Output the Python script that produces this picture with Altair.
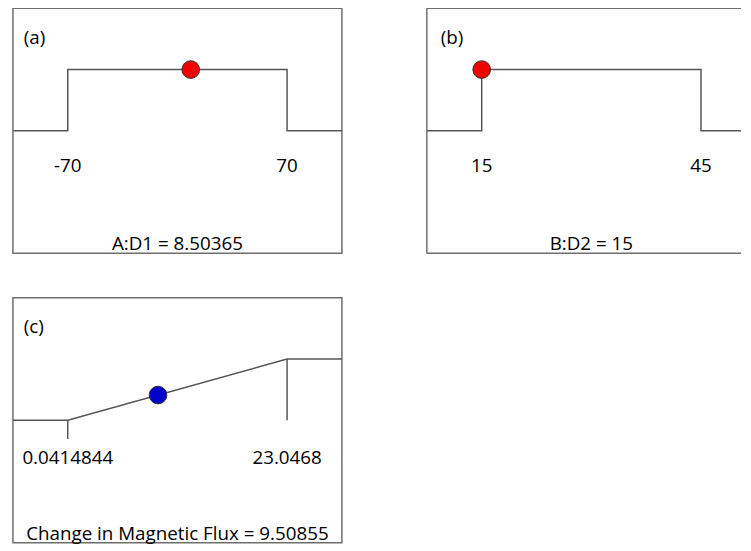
import altair as alt
import pandas as pd

# ---- data ----
panel_letters = ["(a)", "(b)", "(c)"]
factor_names = ["A:D1", "B:D2", "Change in Magnetic Flux"]
lows = [-70, 15, 0.0414844]
highs = [70, 45, 23.0468]
values = [8.50365, 15, 9.50855]
low_labels = ["-70", "15", "0.0414844"]
high_labels = ["70", "45", "23.0468"]
value_labels = ["8.50365", "15", "9.50855"]

# ---- styles ----
W, H = 333, 248
LINE = "#555555"
BORDER = "#6e6e6e"
FONT = "Open Sans"
FS = 19
TXT = "#000000"
DOT_COLORS = ["#f00000", "#f00000", "#0000c8"]


def texts(i, letter_x, width):
    letter = alt.Chart(pd.DataFrame({"t": [panel_letters[i]]})).mark_text(
        font=FONT, fontSize=FS, color=TXT, align="left", baseline="middle"
    ).encode(x=alt.value(letter_x), y=alt.value(30), text="t:N")
    title = alt.Chart(
        pd.DataFrame({"t": [f"{factor_names[i]} = {value_labels[i]}"]})
    ).mark_text(
        font=FONT, fontSize=FS, color=TXT, align="center", baseline="middle"
    ).encode(x=alt.value(W / 2), y=alt.value(H - 9), text="t:N")
    return [letter, title]


def step_panel(i, width=W, letter_x=11, clipped=False):
    lo, hi, v = lows[i], highs[i], values[i]
    span = hi - lo
    d0, d1 = lo - span / 4, hi + span / 4
    xdom = [d0, d0 + (d1 - d0) * width / W]
    path = pd.DataFrame({"x": [d0, lo, lo, hi, hi, d1],
                         "y": [0, 0, 1, 1, 0, 0],
                         "o": list(range(6))})
    x = alt.X("x:Q", scale=alt.Scale(domain=xdom, nice=False, zero=False), axis=None)
    y = alt.Y("y:Q", scale=alt.Scale(domain=[-2, 2], nice=False, zero=False), axis=None)
    line = alt.Chart(path).mark_line(color=LINE, strokeWidth=1.5, clip=True).encode(
        x=x, y=y, order="o:Q")
    dot = alt.Chart(pd.DataFrame({"x": [v], "y": [1]})).mark_circle(
        size=320, fill=DOT_COLORS[i], stroke="#333333", strokeWidth=1, opacity=1
    ).encode(x=x, y=y)
    lab = alt.Chart(pd.DataFrame({"x": [lo, hi], "t": [low_labels[i], high_labels[i]]})).mark_text(
        font=FONT, fontSize=FS, color=TXT, align="center", baseline="middle"
    ).encode(x=x, y=alt.value(160), text="t:N")
    layers = [line, lab, dot] + texts(i, letter_x, width)
    if clipped:
        one = alt.Data(values=[{"k": 0}])
        b1 = alt.Chart(one).mark_rule(color=BORDER, strokeWidth=1.5).encode(
            x=alt.value(0), x2=alt.value(width), y=alt.value(0))
        b2 = alt.Chart(one).mark_rule(color=BORDER, strokeWidth=1.5).encode(
            x=alt.value(0), x2=alt.value(width), y=alt.value(H))
        b3 = alt.Chart(one).mark_rule(color=BORDER, strokeWidth=1.5).encode(
            x=alt.value(0), y=alt.value(0), y2=alt.value(H))
        layers += [b1, b2, b3]
        return alt.layer(*layers).properties(
            width=width, height=H, view=alt.ViewBackground(stroke="transparent"))
    return alt.layer(*layers).properties(width=width, height=H)


def ramp_panel(i, letter_x=11):
    lo, hi, v = lows[i], highs[i], values[i]
    span = hi - lo
    d0, d1 = lo - span / 4, hi + span / 4
    path = pd.DataFrame({"x": [d0, lo, hi, d1],
                         "y": [lo, lo, hi, hi],
                         "o": list(range(4))})
    x = alt.X("x:Q", scale=alt.Scale(domain=[d0, d1], nice=False, zero=False), axis=None)
    y = alt.Y("y:Q", scale=alt.Scale(domain=[lo - 2 * span, hi + span], nice=False, zero=False),
              axis=None)
    line = alt.Chart(path).mark_line(color=LINE, strokeWidth=1.5, clip=True).encode(
        x=x, y=y, order="o:Q")
    tick_r = alt.Chart(pd.DataFrame({"x": [hi], "y": [hi], "y2": [lo]})).mark_rule(
        color=LINE, strokeWidth=1.5).encode(x=x, y=y, y2="y2:Q")
    tick_l = alt.Chart(pd.DataFrame({"x": [lo], "y": [lo]})).mark_rule(
        color=LINE, strokeWidth=1.5).encode(x=x, y=y, y2=alt.value(143))
    dot = alt.Chart(pd.DataFrame({"x": [v], "y": [v]})).mark_circle(
        size=320, fill=DOT_COLORS[i], stroke="#333333", strokeWidth=1, opacity=1
    ).encode(x=x, y=y)
    lab = alt.Chart(pd.DataFrame({"x": [lo, hi], "t": [low_labels[i], high_labels[i]]})).mark_text(
        font=FONT, fontSize=FS, color=TXT, align="center", baseline="middle"
    ).encode(x=x, y=alt.value(162), text="t:N")
    layers = [line, tick_r, tick_l, lab, dot] + texts(i, letter_x, W)
    return alt.layer(*layers).properties(width=W, height=H)


pa = step_panel(0)
pb = step_panel(1, width=318, letter_x=14, clipped=True)
pc = ramp_panel(2)

top = alt.hconcat(pa, pb, spacing=83)
chart = alt.vconcat(
    top, pc, spacing=42,
    padding={"left": 4, "top": -5, "right": 0, "bottom": 0},
).configure_view(stroke=BORDER, strokeWidth=1.5)

chart.save("out.html", embed_options={"renderer": "svg", "actions": False})
